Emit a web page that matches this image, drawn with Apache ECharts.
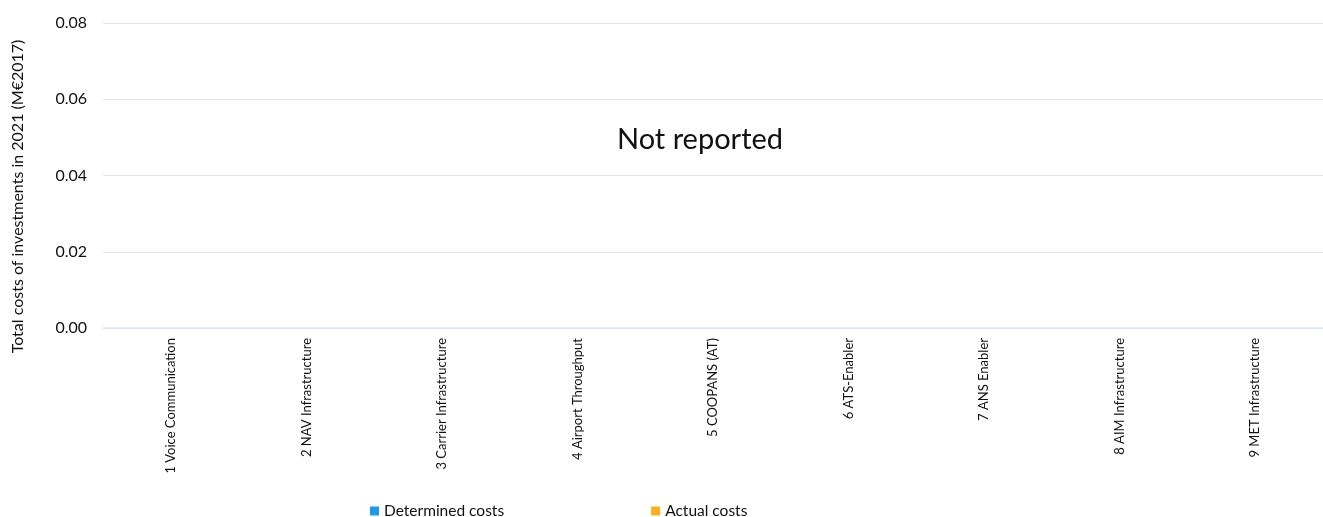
<!DOCTYPE html>
<html>
<head>
<meta charset="utf-8">
<script src="https://cdn.jsdelivr.net/npm/echarts@6/dist/echarts.min.js"></script>
<style>html,body{margin:0;padding:0;background:#fff}#c{width:1323px;height:517px}</style>
</head>
<body>
<div id="c"></div>
<script>
const categories = ["1 Voice Communication","2 NAV Infrastructure","3 Carrier Infrastructure","4 Airport Throughput","5 COOPANS (AT)","6 ATS-Enabler","7 ANS Enabler","8 AIM Infrastructure","9 MET Infrastructure"];
const determinedCosts = [null,null,null,null,null,null,null,null,null];
const actualCosts = [null,null,null,null,null,null,null,null,null];
const yTicks = {min:0, max:0.08, interval:0.02};
const FONT = 'Lato';

const chart = echarts.init(document.getElementById('c'));
chart.setOption({
  animation:false,
  textStyle:{fontFamily:FONT},
  title:{text:'Not reported', left:695, top:120, textAlign:'center',
    textStyle:{fontFamily:FONT, fontSize:29, fontWeight:'normal', color:'#111'}},
  legend:{left:370, top:503, padding:0, itemWidth:9, itemHeight:9, itemGap:147, icon:'rect',
    textStyle:{fontFamily:FONT, fontSize:15.5, color:'#111', padding:[0,0,0,0]},
    data:['Determined costs','Actual costs']},
  grid:{left:103, right:-12, top:23, bottom:189, containLabel:false},
  xAxis:{type:'category', data:categories,
    axisLine:{show:true, lineStyle:{color:'#dce8f7', width:1.5}},
    axisTick:{show:false},
    axisLabel:{rotate:90, interval:0, fontFamily:FONT, fontSize:13, color:'#111', margin:10}},
  yAxis:{type:'value', min:yTicks.min, max:yTicks.max, interval:yTicks.interval,
    name:'Total costs of investments in 2021 (M€2017)', nameLocation:'middle', nameGap:77,
    nameTextStyle:{fontFamily:FONT, fontSize:16, color:'#111', padding:[0,42,0,0]},
    axisLine:{show:false}, axisTick:{show:false},
    axisLabel:{formatter:v=>v.toFixed(2), fontFamily:FONT, fontSize:16, color:'#111', margin:16},
    splitLine:{lineStyle:{color:'#e6e6e6', width:1}}},
  series:[
    {name:'Determined costs', type:'bar', data:determinedCosts, itemStyle:{color:'#1f9ae6'}},
    {name:'Actual costs', type:'bar', data:actualCosts, itemStyle:{color:'#fbb01c'}}
  ]
});
</script>
</body>
</html>
